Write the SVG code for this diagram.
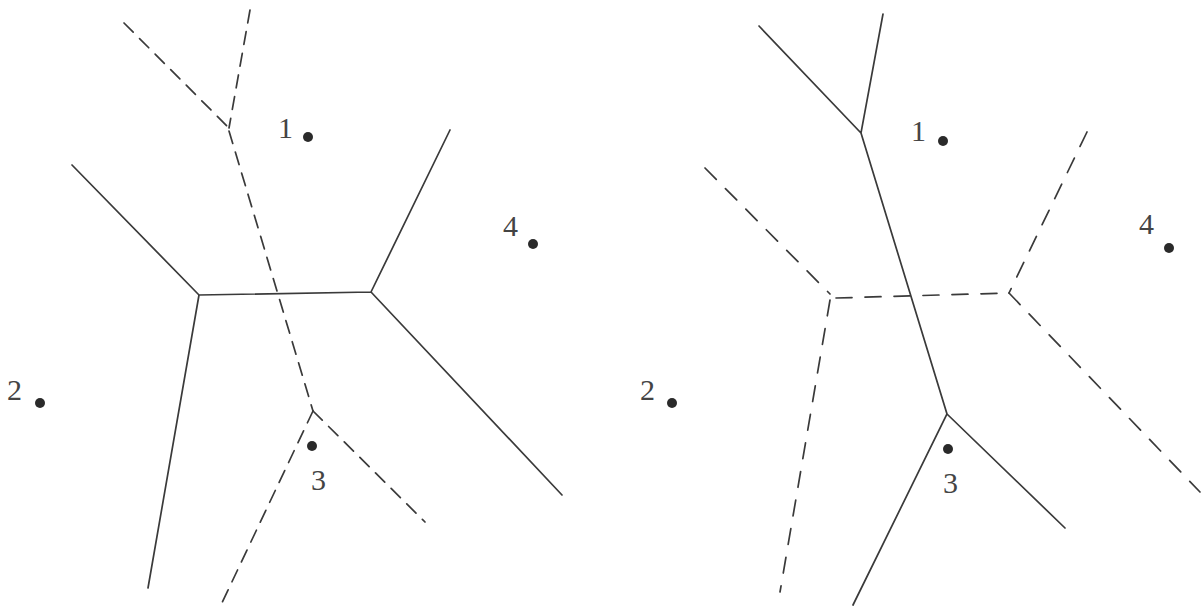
<svg xmlns="http://www.w3.org/2000/svg" width="1203" height="609" viewBox="0 0 1203 609">
<style>
.s{stroke:#3a3a3a;stroke-width:1.7;fill:none;stroke-linecap:round}
.dl{stroke-dasharray:13 9}
.dr{stroke-dasharray:16 13}
.pt{fill:#2a2a2a}
.lb{font-family:"Liberation Serif","DejaVu Serif",serif;font-size:30px;fill:#444}
</style>
<rect width="1203" height="609" fill="#fff"/>
<g id="connectors">
  <path class="s" d="M72,165 L199,295 L371,292 L450,130 M199,295 L148,588 M371,292 L562,495"/>
  <path class="s dl" d="M124,23 L229,128"/>
  <path class="s dl" d="M250,10 L229,128"/>
  <path class="s dl" d="M229,131 L313,411"/>
  <path class="s dl" d="M313,411 L220,607"/>
  <path class="s dl" d="M313,411 L425,522"/>
  <path class="s" d="M759,26 L861,133 L883,14 M861,133 L947,414 L853,605 M947,414 L1065,528"/>
  <path class="s dr" d="M705,168 L830,294"/>
  <path class="s dr" d="M836,298 L1009,293"/>
  <path class="s dr" d="M830,300 L780,592"/>
  <path class="s dr" d="M1087,132 L1009,293"/>
  <path class="s dr" d="M1009,293 L1200,492"/>
</g>
<g id="n1L"><circle class="pt" cx="308" cy="137" r="5"/><text class="lb" x="278" y="138">1</text></g>
<g id="n2L"><circle class="pt" cx="40" cy="403" r="5"/><text class="lb" x="7" y="400">2</text></g>
<g id="n3L"><circle class="pt" cx="312" cy="446" r="5"/><text class="lb" x="311" y="490">3</text></g>
<g id="n4L"><circle class="pt" cx="533" cy="244" r="5"/><text class="lb" x="503" y="236">4</text></g>
<g id="n1R"><circle class="pt" cx="943" cy="141" r="5"/><text class="lb" x="911" y="141">1</text></g>
<g id="n2R"><circle class="pt" cx="672" cy="403" r="5"/><text class="lb" x="640" y="400">2</text></g>
<g id="n3R"><circle class="pt" cx="948" cy="449" r="5"/><text class="lb" x="943" y="493">3</text></g>
<g id="n4R"><circle class="pt" cx="1169" cy="248" r="5"/><text class="lb" x="1139" y="234">4</text></g>
</svg>
